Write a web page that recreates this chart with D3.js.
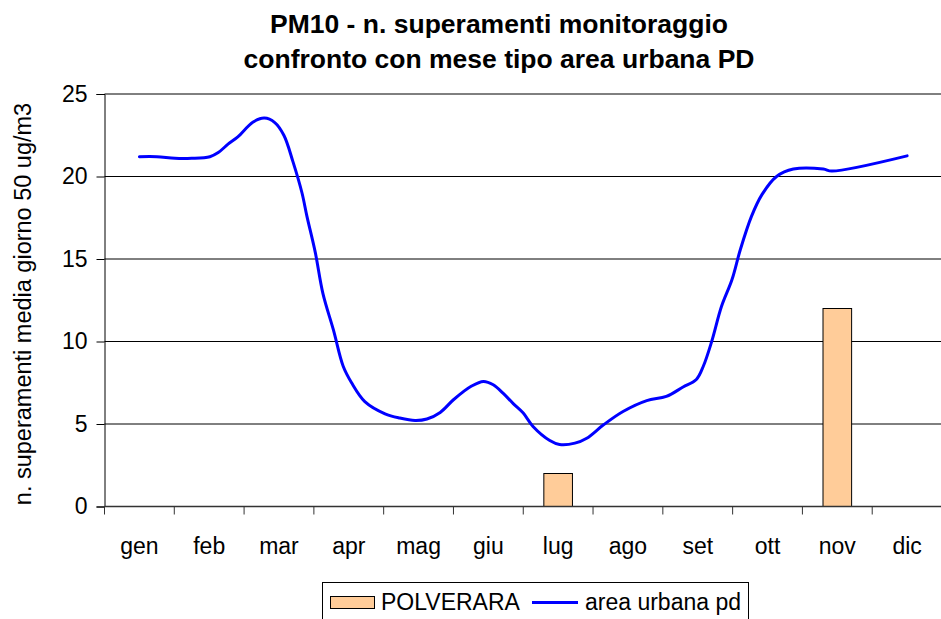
<!DOCTYPE html>
<html>
<head>
<meta charset="utf-8">
<script src="https://cdn.jsdelivr.net/npm/d3@7"></script>
<style>
  html, body { margin: 0; padding: 0; background: #fff; }
  svg { display: block; font-family: Arial, "Liberation Sans", sans-serif; }
</style>
</head>
<body>
<svg id="chart" width="941" height="619"></svg>
<script>
// ---- data ----
const months = ["gen","feb","mar","apr","mag","giu","lug","ago","set","ott","nov","dic"];
const polverara = [null,null,null,null,null,null,2,null,null,null,12,null];
// line "area urbana pd": position in months (0 = gen, 11 = dic) and value
const urbanT = [0.00,0.25,0.51,0.75,1.01,1.13,1.27,1.41,1.63,1.79,1.94,2.07,2.20,2.33,2.40,2.52,2.63,2.78,2.92,3.04,3.23,3.52,3.73,3.95,4.12,4.31,4.50,4.76,4.93,5.07,5.21,5.36,5.50,5.64,5.88,6.02,6.24,6.41,6.65,6.93,7.27,7.55,7.79,7.98,8.08,8.20,8.34,8.49,8.61,8.77,8.92,9.13,9.37,9.80,9.92,11.00];
const urbanV = [21.2,21.2,21.1,21.1,21.2,21.45,21.96,22.4,23.3,23.54,23.27,22.5,20.9,19.0,17.6,15.4,12.9,10.7,8.5,7.5,6.36,5.62,5.36,5.21,5.3,5.7,6.47,7.3,7.58,7.38,6.87,6.22,5.66,4.85,4.0,3.76,3.84,4.14,4.95,5.76,6.42,6.67,7.24,7.7,8.5,10.0,12.12,13.74,15.56,17.58,18.9,20.0,20.45,20.45,20.33,21.25];
const yTicks = [0,5,10,15,20,25];
const titleLines = ["PM10 - n. superamenti monitoraggio","confronto con mese tipo area urbana PD"];
const yTitle = "n. superamenti media giorno 50 ug/m3";
const seriesNames = ["POLVERARA","area urbana pd"];

// ---- layout ----
const svg = d3.select("#chart");
const L = 104.5, R = 942, T = 94, B = 506.5;
const x = d3.scaleBand().domain(months).range([L, R]).padding(0);
const bw = x.bandwidth();
const y = d3.scaleLinear().domain([0, 25]).range([B, T]);
const xl = d3.scaleLinear().domain([0, 11]).range([x("gen") + bw/2, x("dic") + bw/2]);

// gridlines
svg.append("g").selectAll("line").data(yTicks.filter(d => d > 0)).join("line")
  .attr("x1", L).attr("x2", 941).attr("y1", d => y(d)).attr("y2", d => y(d))
  .attr("stroke", "#000").attr("stroke-width", 1);

// bars
const barData = months.map((m, i) => ({m, v: polverara[i]})).filter(d => d.v != null);
svg.append("g").selectAll("rect").data(barData).join("rect")
  .attr("x", d => x(d.m) + bw/2 - bw*0.205)
  .attr("width", bw*0.41)
  .attr("y", d => y(d.v))
  .attr("height", d => y(0) - y(d.v))
  .attr("fill", "#FFCC99").attr("stroke", "#000").attr("stroke-width", 1);

// y axis
const yAxis = svg.append("g").attr("transform", `translate(${L},0)`)
  .call(d3.axisLeft(y).tickValues(yTicks).tickSize(8).tickPadding(9).tickFormat(d3.format("d")));
yAxis.select(".domain").attr("stroke", "#000");
yAxis.selectAll(".tick line").attr("stroke", "#000");
yAxis.selectAll("text").attr("font-size", 23).attr("fill", "#000")
  .attr("font-family", "Arial, 'Liberation Sans', sans-serif");

// x axis
const xAxis = svg.append("g").attr("transform", `translate(0,${B})`)
  .call(d3.axisBottom(x).tickSize(0).tickPadding(0));
xAxis.select(".domain").remove();
xAxis.append("line").attr("x1", L).attr("x2", 941).attr("y1", 0).attr("y2", 0)
  .attr("stroke", "#333").attr("stroke-width", 1.5);
xAxis.selectAll(".tick text").attr("font-size", 23).attr("fill", "#000")
  .attr("font-family", "Arial, 'Liberation Sans', sans-serif")
  .attr("dy", 0).attr("y", 47);
// category separators (tick marks)
xAxis.append("g").selectAll("line").data(months).join("line")
  .attr("x1", d => x(d)).attr("x2", d => x(d)).attr("y1", 0).attr("y2", 8)
  .attr("stroke", "#333").attr("stroke-width", 1);

// line
const pts = urbanT.map((t, i) => [xl(t), y(urbanV[i])]);
svg.append("path").datum(pts)
  .attr("d", d3.line().curve(d3.curveCatmullRom.alpha(0.5)))
  .attr("fill", "none").attr("stroke", "#0000FF").attr("stroke-width", 3)
  .attr("stroke-linejoin", "round").attr("stroke-linecap", "round");

// title
svg.append("g").selectAll("text").data(titleLines).join("text")
  .attr("x", 499).attr("y", (d, i) => 33 + i*35)
  .attr("text-anchor", "middle").attr("font-weight", "bold").attr("font-size", 26.5)
  .attr("fill", "#000").text(d => d);

// y title
svg.append("text")
  .attr("transform", "translate(31,304) rotate(-90)")
  .attr("text-anchor", "middle").attr("font-size", 23.5).attr("fill", "#000")
  .text(yTitle);

// legend
const lg = svg.append("g");
lg.append("rect").attr("x", 322.5).attr("y", 582.5).attr("width", 426).attr("height", 50)
  .attr("fill", "#fff").attr("stroke", "#000").attr("stroke-width", 1);
lg.append("rect").attr("x", 330.5).attr("y", 596.5).attr("width", 44).attr("height", 12)
  .attr("fill", "#FFCC99").attr("stroke", "#000").attr("stroke-width", 1);
lg.append("text").attr("x", 381).attr("y", 610).attr("font-size", 23).attr("fill", "#000").text(seriesNames[0]);
lg.append("line").attr("x1", 532).attr("x2", 578).attr("y1", 602.5).attr("y2", 602.5)
  .attr("stroke", "#0000FF").attr("stroke-width", 3);
lg.append("text").attr("x", 585).attr("y", 610).attr("font-size", 23).attr("fill", "#000").text(seriesNames[1]);
</script>
</body>
</html>
